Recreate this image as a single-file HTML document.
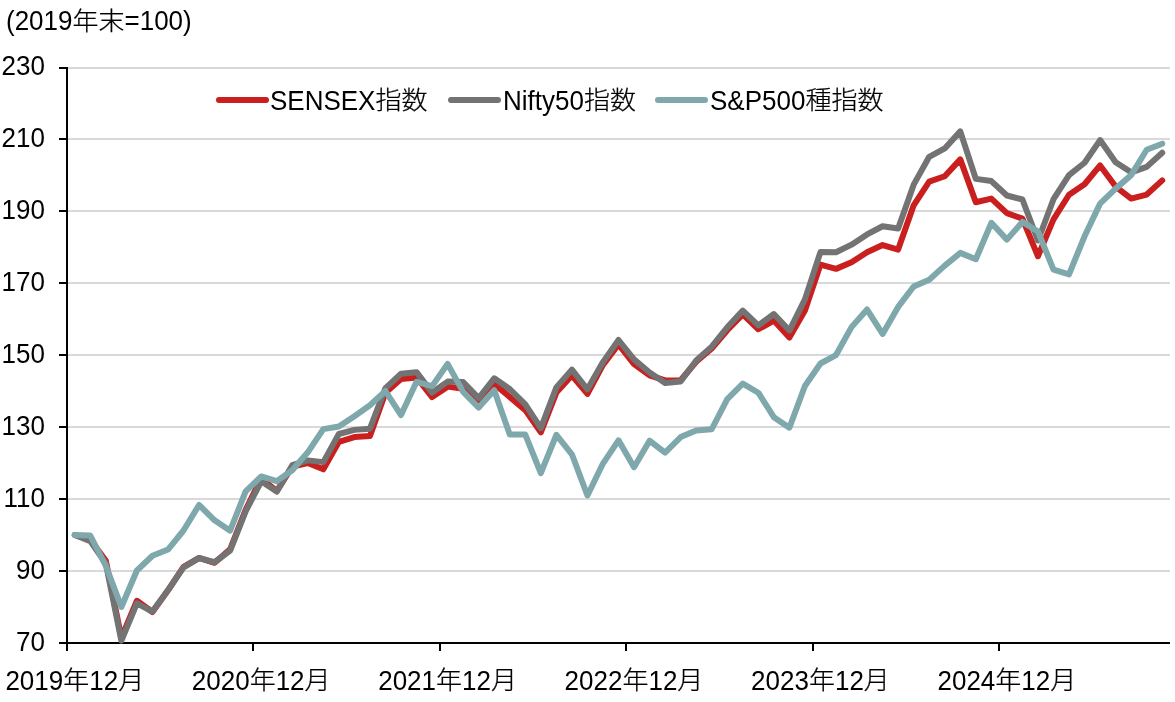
<!DOCTYPE html>
<html><head><meta charset="utf-8"><style>
html,body{margin:0;padding:0;background:#fff;}
svg{display:block;will-change:transform;}
text{font-family:"Liberation Sans", "Noto Sans CJK JP", sans-serif;font-size:26px;fill:#000;font-weight:300;}
.cj{stroke:#000;stroke-width:0.25px;}
</style></head><body>
<svg width="1175" height="702" viewBox="0 0 1175 702">
<line x1="68" y1="571" x2="1170" y2="571" stroke="#D9D9D9" stroke-width="2"/>
<line x1="68" y1="499" x2="1170" y2="499" stroke="#D9D9D9" stroke-width="2"/>
<line x1="68" y1="427" x2="1170" y2="427" stroke="#D9D9D9" stroke-width="2"/>
<line x1="68" y1="355" x2="1170" y2="355" stroke="#D9D9D9" stroke-width="2"/>
<line x1="68" y1="283" x2="1170" y2="283" stroke="#D9D9D9" stroke-width="2"/>
<line x1="68" y1="211" x2="1170" y2="211" stroke="#D9D9D9" stroke-width="2"/>
<line x1="68" y1="139" x2="1170" y2="139" stroke="#D9D9D9" stroke-width="2"/>
<line x1="68" y1="68" x2="1170" y2="68" stroke="#D9D9D9" stroke-width="2"/>
<line x1="67" y1="67" x2="67" y2="651" stroke="#000" stroke-width="2"/>
<line x1="59" y1="643" x2="67" y2="643" stroke="#000" stroke-width="2"/>
<line x1="59" y1="571" x2="67" y2="571" stroke="#000" stroke-width="2"/>
<line x1="59" y1="499" x2="67" y2="499" stroke="#000" stroke-width="2"/>
<line x1="59" y1="427" x2="67" y2="427" stroke="#000" stroke-width="2"/>
<line x1="59" y1="355" x2="67" y2="355" stroke="#000" stroke-width="2"/>
<line x1="59" y1="283" x2="67" y2="283" stroke="#000" stroke-width="2"/>
<line x1="59" y1="211" x2="67" y2="211" stroke="#000" stroke-width="2"/>
<line x1="59" y1="139" x2="67" y2="139" stroke="#000" stroke-width="2"/>
<line x1="59" y1="68" x2="67" y2="68" stroke="#000" stroke-width="2"/>
<line x1="67" y1="643" x2="1170" y2="643" stroke="#000" stroke-width="2"/>
<line x1="67" y1="643" x2="67" y2="651" stroke="#000" stroke-width="2"/>
<line x1="253" y1="643" x2="253" y2="651" stroke="#000" stroke-width="2"/>
<line x1="440" y1="643" x2="440" y2="651" stroke="#000" stroke-width="2"/>
<line x1="626" y1="643" x2="626" y2="651" stroke="#000" stroke-width="2"/>
<line x1="813" y1="643" x2="813" y2="651" stroke="#000" stroke-width="2"/>
<line x1="999" y1="643" x2="999" y2="651" stroke="#000" stroke-width="2"/>
<polyline points="74.77,535.00 90.30,539.63 105.84,560.80 121.37,637.84 136.91,600.76 152.44,612.05 167.98,590.31 183.51,566.82 199.05,557.91 214.58,562.80 230.12,549.31 245.65,509.73 261.19,478.30 276.73,491.09 292.26,466.53 307.80,462.96 323.33,469.30 338.87,441.77 354.40,437.01 369.94,436.10 385.47,392.77 401.01,379.03 416.54,377.46 432.08,397.02 447.61,386.65 463.15,388.74 478.68,404.16 494.22,383.90 509.75,397.06 525.29,410.10 540.82,432.33 556.36,392.61 571.89,375.45 587.43,393.87 602.96,364.90 618.50,344.36 634.04,364.07 649.57,375.34 665.11,380.47 680.64,380.21 696.18,361.70 711.71,348.53 727.25,330.23 742.78,314.45 758.32,329.25 773.85,320.55 789.39,337.60 804.92,310.43 820.46,264.60 835.99,268.86 851.53,262.33 867.06,252.28 882.60,245.03 898.13,249.58 913.67,205.32 929.20,181.69 944.74,176.24 960.27,159.36 975.81,202.21 991.35,198.60 1006.88,213.12 1022.42,218.69 1037.95,256.24 1053.49,219.44 1069.02,194.77 1084.56,184.22 1100.09,165.41 1115.63,186.54 1131.16,198.54 1146.70,194.55 1162.23,180.40" fill="none" stroke="#C9201F" stroke-width="6" stroke-linejoin="round" stroke-linecap="round"/>
<polyline points="74.77,535.00 90.30,541.10 105.84,563.60 121.37,640.64 136.91,603.30 152.44,611.57 167.98,590.22 183.51,567.40 199.05,558.10 214.58,562.24 230.12,550.56 245.65,511.32 261.19,481.35 276.73,491.62 292.26,465.16 307.80,460.38 323.33,462.14 338.87,433.99 354.40,429.88 369.94,428.65 385.47,388.15 401.01,373.77 416.54,372.19 432.08,392.56 447.61,381.59 463.15,382.01 478.68,398.16 494.22,378.31 509.75,389.03 525.29,404.35 540.82,428.15 556.36,387.38 571.89,369.60 587.43,389.27 602.96,362.11 618.50,340.04 634.04,359.36 649.57,372.47 665.11,383.07 680.64,381.42 696.18,360.55 711.71,346.67 727.25,327.30 742.78,310.59 758.32,325.38 773.85,314.01 789.39,330.54 804.92,299.37 820.46,252.08 835.99,252.25 851.53,244.65 867.06,234.47 882.60,226.24 898.13,228.44 913.67,184.65 929.20,156.83 944.74,148.40 960.27,131.39 975.81,178.89 991.35,181.09 1006.88,195.48 1022.42,199.51 1037.95,240.45 1053.49,199.19 1069.02,175.08 1084.56,162.76 1100.09,140.09 1115.63,162.24 1131.16,172.34 1146.70,166.89 1162.23,152.68" fill="none" stroke="#737373" stroke-width="6" stroke-linejoin="round" stroke-linecap="round"/>
<polyline points="74.77,535.00 90.30,535.59 105.84,565.82 121.37,607.00 136.91,570.47 152.44,555.78 167.98,549.54 183.51,530.50 199.05,504.97 214.58,520.27 230.12,530.63 245.65,491.45 261.19,476.47 276.73,481.13 292.26,470.33 307.80,452.31 323.33,429.10 338.87,426.54 354.40,416.14 369.94,405.24 385.47,391.05 401.01,415.02 416.54,381.83 432.08,386.11 447.61,363.91 463.15,391.84 478.68,407.62 494.22,390.18 509.75,434.59 525.29,434.56 540.82,473.20 556.36,434.77 571.89,454.30 587.43,495.46 602.96,463.55 618.50,440.36 634.04,467.17 649.57,440.75 665.11,452.61 680.64,437.11 696.18,430.40 711.71,429.25 727.25,399.10 742.78,383.66 758.32,392.72 773.85,417.19 789.39,427.69 804.92,386.02 820.46,363.51 835.99,355.06 851.53,327.13 867.06,309.52 882.60,333.88 898.13,306.94 913.67,286.55 929.20,279.66 944.74,265.61 960.27,252.90 975.81,259.25 991.35,222.82 1006.88,239.62 1022.42,221.91 1037.95,231.50 1053.49,269.68 1069.02,274.45 1084.56,236.27 1100.09,203.59 1115.63,188.61 1131.16,175.14 1146.70,149.72 1162.23,143.68" fill="none" stroke="#7FA8AC" stroke-width="6" stroke-linejoin="round" stroke-linecap="round"/>
<line x1="219" y1="100" x2="266" y2="100" stroke="#C9201F" stroke-width="6" stroke-linecap="round"/>
<line x1="451" y1="100" x2="498" y2="100" stroke="#737373" stroke-width="6" stroke-linecap="round"/>
<line x1="658" y1="100" x2="705" y2="100" stroke="#7FA8AC" stroke-width="6" stroke-linecap="round"/>
<text x="16.08" y="651.00" transform="matrix(1 0 0 1.055 0 -35.80)">70</text>
<text x="16.08" y="579.00" transform="matrix(1 0 0 1.055 0 -31.84)">90</text>
<text x="3.55" y="507.00" transform="matrix(1 0 0 1.055 0 -27.88)">110</text>
<text x="1.61" y="435.00" transform="matrix(1 0 0 1.055 0 -23.92)">130</text>
<text x="1.61" y="363.00" transform="matrix(1 0 0 1.055 0 -19.96)">150</text>
<text x="1.61" y="291.00" transform="matrix(1 0 0 1.055 0 -16.00)">170</text>
<text x="1.61" y="219.00" transform="matrix(1 0 0 1.055 0 -12.04)">190</text>
<text x="1.61" y="147.00" transform="matrix(1 0 0 1.055 0 -8.08)">210</text>
<text x="1.61" y="75.00" transform="matrix(1 0 0 1.055 0 -4.12)">230</text>
<text x="5.40" y="690.00" transform="matrix(1 0 0 1.055 0 -37.95)">2019</text>
<text class="cj" x="63.25" y="690.00" transform="matrix(1.0 0 0 0.94 0.00 40.90)">年</text>
<text x="89.26" y="690.00" transform="matrix(1 0 0 1.055 0 -37.95)">12</text>
<text class="cj" x="118.18" y="690.00" transform="matrix(1.0 0 0 0.94 0.00 40.90)">月</text>
<text x="191.80" y="690.00" transform="matrix(1 0 0 1.055 0 -37.95)">2020</text>
<text class="cj" x="249.65" y="690.00" transform="matrix(1.0 0 0 0.94 0.00 40.90)">年</text>
<text x="275.66" y="690.00" transform="matrix(1 0 0 1.055 0 -37.95)">12</text>
<text class="cj" x="304.58" y="690.00" transform="matrix(1.0 0 0 0.94 0.00 40.90)">月</text>
<text x="378.20" y="690.00" transform="matrix(1 0 0 1.055 0 -37.95)">2021</text>
<text class="cj" x="436.05" y="690.00" transform="matrix(1.0 0 0 0.94 0.00 40.90)">年</text>
<text x="462.06" y="690.00" transform="matrix(1 0 0 1.055 0 -37.95)">12</text>
<text class="cj" x="490.98" y="690.00" transform="matrix(1.0 0 0 0.94 0.00 40.90)">月</text>
<text x="564.60" y="690.00" transform="matrix(1 0 0 1.055 0 -37.95)">2022</text>
<text class="cj" x="622.45" y="690.00" transform="matrix(1.0 0 0 0.94 0.00 40.90)">年</text>
<text x="648.46" y="690.00" transform="matrix(1 0 0 1.055 0 -37.95)">12</text>
<text class="cj" x="677.38" y="690.00" transform="matrix(1.0 0 0 0.94 0.00 40.90)">月</text>
<text x="751.10" y="690.00" transform="matrix(1 0 0 1.055 0 -37.95)">2023</text>
<text class="cj" x="808.95" y="690.00" transform="matrix(1.0 0 0 0.94 0.00 40.90)">年</text>
<text x="834.96" y="690.00" transform="matrix(1 0 0 1.055 0 -37.95)">12</text>
<text class="cj" x="863.88" y="690.00" transform="matrix(1.0 0 0 0.94 0.00 40.90)">月</text>
<text x="937.50" y="690.00" transform="matrix(1 0 0 1.055 0 -37.95)">2024</text>
<text class="cj" x="995.35" y="690.00" transform="matrix(1.0 0 0 0.94 0.00 40.90)">年</text>
<text x="1021.36" y="690.00" transform="matrix(1 0 0 1.055 0 -37.95)">12</text>
<text class="cj" x="1050.28" y="690.00" transform="matrix(1.0 0 0 0.94 0.00 40.90)">月</text>
<text x="270.00" y="110.00" transform="matrix(1 0 0 1.055 0 -6.05)">SENSEX</text>
<text class="cj" x="375.50" y="110.00" transform="matrix(1.0 0 0 0.94 0.00 6.10)">指</text>
<text class="cj" x="401.50" y="110.00" transform="matrix(1.0 0 0 0.94 0.00 6.10)">数</text>
<text x="503.00" y="110.00" transform="matrix(1 0 0 1.055 0 -6.05)">Nifty50</text>
<text class="cj" x="583.92" y="110.00" transform="matrix(1.0 0 0 0.94 0.00 6.10)">指</text>
<text class="cj" x="609.92" y="110.00" transform="matrix(1.0 0 0 0.94 0.00 6.10)">数</text>
<text x="710.00" y="110.00" transform="matrix(1 0 0 1.055 0 -6.05)">S&amp;P500</text>
<text class="cj" x="805.41" y="110.00" transform="matrix(1.0 0 0 0.94 0.00 6.10)">種</text>
<text class="cj" x="831.41" y="110.00" transform="matrix(1.0 0 0 0.94 0.00 6.10)">指</text>
<text class="cj" x="857.41" y="110.00" transform="matrix(1.0 0 0 0.94 0.00 6.10)">数</text>
<text x="6.00" y="30.50" transform="matrix(1 0 0 1.055 0 -1.68)">(2019</text>
<text class="cj" x="72.50" y="30.50" transform="matrix(1.0 0 0 0.94 0.00 1.33)">年</text>
<text class="cj" x="98.50" y="30.50" transform="matrix(1.0 0 0 0.94 0.00 1.33)">末</text>
<text x="124.52" y="30.50" transform="matrix(1 0 0 1.055 0 -1.68)">=100)</text>
</svg>
</body></html>
